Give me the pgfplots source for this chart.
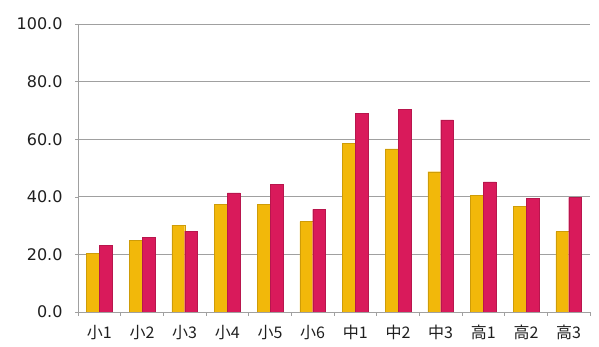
\documentclass[border=0pt]{standalone}
\usepackage{pgfplots}
\pgfplotsset{compat=1.18}
\usepackage{fontspec}
\setmainfont{DejaVu Sans}
\newfontfamily\jp{Noto Sans CJK JP}
\definecolor{cyel}{HTML}{F2B80A}
\definecolor{cred}{HTML}{D91A5B}
\definecolor{gridc}{HTML}{A0A0A0}
\begin{document}
\begin{tikzpicture}
\path[use as bounding box] (0,0) rectangle (599pt,347pt);
\begin{axis}[
  at={(78pt,35pt)}, anchor=south west,
  scale only axis, width=512pt, height=288pt,
  ybar=0pt, bar width=12.8pt, ymin=0, ymax=100,
  xmin=-0.5, xmax=11.5,
  ytick={0,20,...,100},
  /pgf/number format/fixed, /pgf/number format/fixed zerofill,
  /pgf/number format/precision=1, /pgf/number format/assume math mode=true,
  yticklabel style={font=\fontsize{16}{18}\selectfont, text=black!88, xshift=-9pt},
  xtick={0,...,11},
  xticklabels={小1,小2,小3,小4,小5,小6,中1,中2,中3,高1,高2,高3},
  xticklabel style={font=\jp\fontsize{16}{18}\selectfont, text=black!88, yshift=-7pt},
  minor xtick={-0.5,0.5,...,11.5},
  major x tick style={draw=none},
  minor tick length=4pt,
  tick align=outside, tick pos=left,
  major tick length=3pt,
  every tick/.style={gridc},
  ymajorgrids, grid style={gridc, line width=0.8pt},
  axis x line*=bottom, axis y line*=left,
  axis line style={gridc, line width=0.8pt},
  x axis line style={-}, y axis line style={-},
]
\addplot[fill=cyel, draw=cyel!85!black, line width=0.3pt] coordinates {
(0,20.3) (1,24.8) (2,30.2) (3,37.4) (4,37.4) (5,31.4) (6,58.6) (7,56.6) (8,48.7) (9,40.6) (10,36.8) (11,27.9)};
\addplot[fill=cred, draw=cred!85!black, line width=0.3pt] coordinates {
(0,23.1) (1,26.0) (2,28.1) (3,41.4) (4,44.3) (5,35.6) (6,69.0) (7,70.4) (8,66.7) (9,45.2) (10,39.5) (11,39.8)};
\end{axis}
\end{tikzpicture}
\end{document}
